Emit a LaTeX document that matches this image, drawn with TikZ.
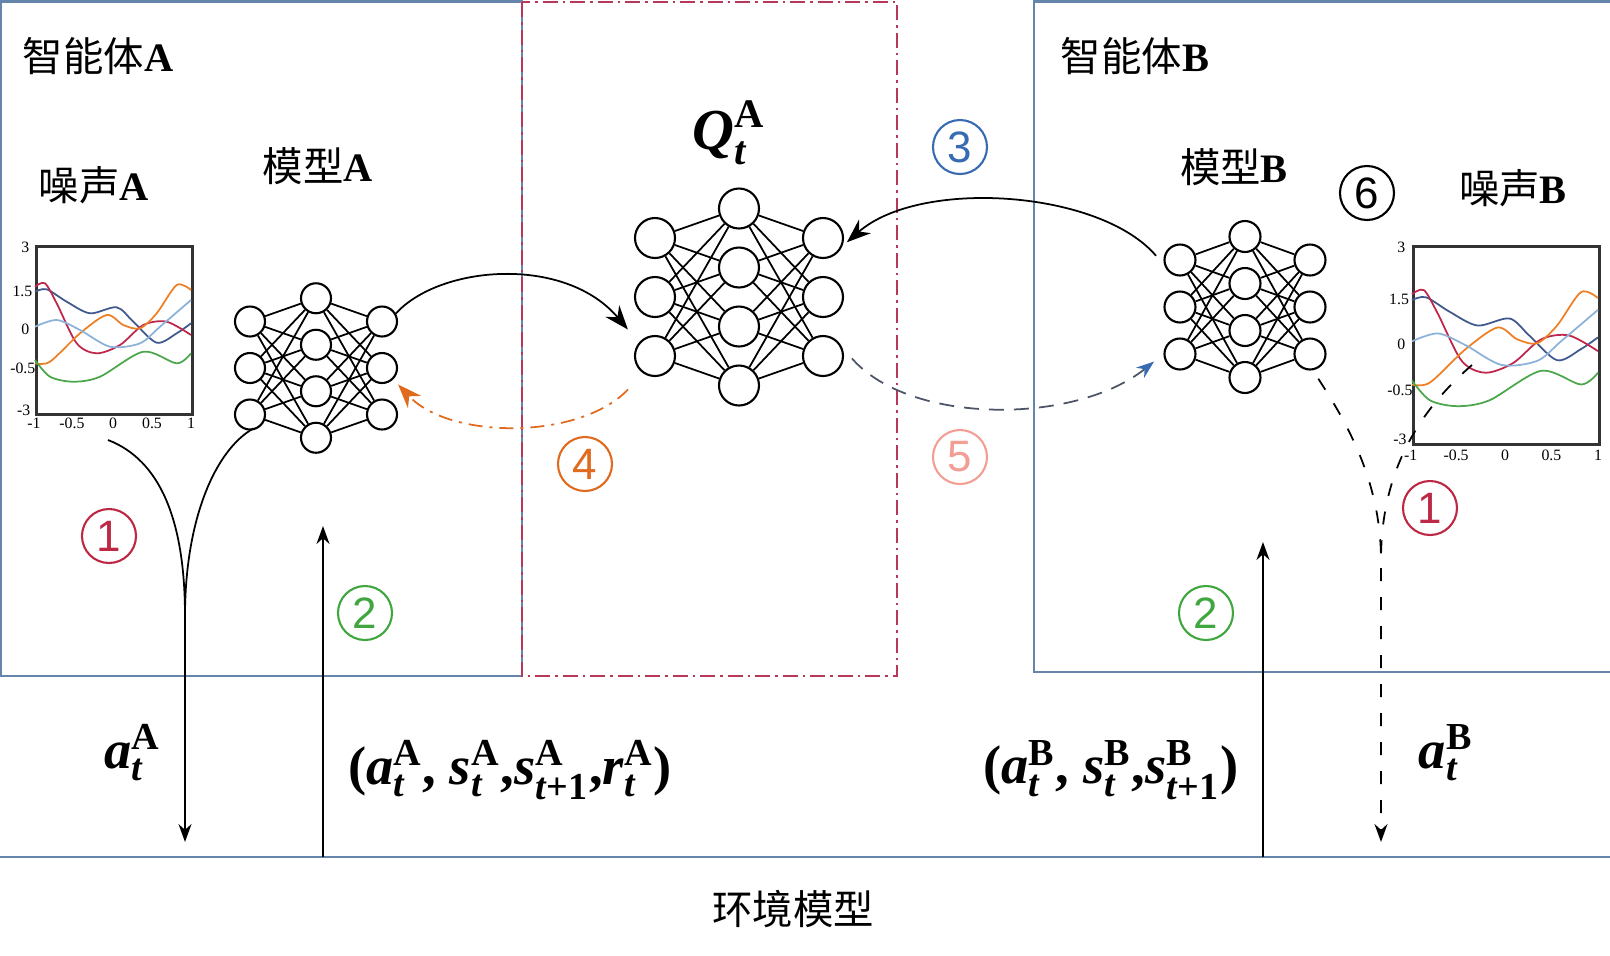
\documentclass[tikz,border=0pt]{standalone}
\usepackage{amsmath}
\usepackage{fontspec}
\setmainfont{Liberation Serif}
\setsansfont{Liberation Sans}
\newfontfamily\cjk{Noto Sans CJK SC}
\usetikzlibrary{arrows.meta}

\newlength{\du}
\setlength{\du}{1mm}

\definecolor{boxcol}{rgb}{0.40,0.52,0.68}
\definecolor{qboxcol}{rgb}{0.72,0.22,0.35}
\definecolor{onecol}{rgb}{0.74,0.16,0.27}
\definecolor{twocol}{rgb}{0.25,0.65,0.25}
\definecolor{threecol}{rgb}{0.22,0.42,0.70}
\definecolor{fourcol}{rgb}{0.88,0.42,0.12}
\definecolor{fivecol}{rgb}{0.95,0.62,0.58}
\definecolor{dashcol}{rgb}{0.30,0.33,0.40}
\definecolor{cvblue}{rgb}{0.25,0.35,0.55}
\definecolor{cvred}{rgb}{0.75,0.15,0.30}
\definecolor{cvorange}{rgb}{0.93,0.50,0.15}
\definecolor{cvlight}{rgb}{0.55,0.70,0.85}
\definecolor{cvgreen}{rgb}{0.30,0.65,0.30}

\newcommand{\bv}[1]{\textbf{\textit{#1}}}

\tikzset{
  neuron/.style={circle, draw, line width=0.6pt, inner sep=0pt},
  nnedge/.style={line width=0.5pt},
  agentbox/.style={draw=boxcol, line width=0.6pt},
  qbox/.style={draw=qboxcol, line width=0.6pt, dash pattern=on 1.5\du off 0.5\du on 0.25\du off 0.5\du},
  lbl/.style={inner sep=0pt, font=\fontsize{11.5}{13}\selectfont},
  mathlbl/.style={inner sep=0pt, font=\fontsize{15.5}{18}\selectfont},
  stepno/.style={circle, draw=#1, text=#1, line width=0.6pt, minimum size=5.4\du, inner sep=0pt, font=\sffamily\fontsize{12.5}{13}\selectfont},
  plotbox/.style={draw=black!80, line width=0.8pt, inner sep=0pt, anchor=north west},
  ticklbl/.style={inner sep=0pt, font=\fontsize{4.5}{5}\selectfont},
  curve/.style={line width=0.5pt},
  conn/.style={line width=0.5pt, -{Stealth[length=2.4mm,width=1.8mm]}},
  conndown/.style={line width=0.5pt, -{Stealth[length=1.8mm,width=1.3mm]}},
}

% small net: name, centre x, centre y, column step, row step, node size
\newcommand{\nnet}[6]{%
  \foreach \k in {1,2,3}{
    \node[neuron, minimum size=#6] (#1-l\k) at ({(#2-#4)*\du},{(#3+(\k-2)*#5)*\du}) {};
    \node[neuron, minimum size=#6] (#1-r\k) at ({(#2+#4)*\du},{(#3+(\k-2)*#5)*\du}) {};
  }
  \foreach \k in {1,...,4}{
    \node[neuron, minimum size=#6] (#1-m\k) at ({#2*\du},{(#3+(\k-2.5)*#5)*\du}) {};
  }
  \foreach \k in {1,2,3}{\foreach \j in {1,...,4}{
    \draw[nnedge] (#1-l\k) -- (#1-m\j);
    \draw[nnedge] (#1-m\j) -- (#1-r\k);
  }}
}

% noise plot: name, x, y, xscale, yscale
\newcommand{\noiseplot}[5]{%
\begin{scope}[shift={(#2\du,#3\du)}, x=#4mm, y=#5mm]
\node[plotbox, minimum width={15.6*#4mm}, minimum height={16.8*#5mm}] (#1) at (0,0) {};
\draw[curve, cvblue] plot[smooth] coordinates {(0,4.67) (1.17,4.43) (3.17,5.67) (5.5,6.83) (8.17,6.23) (9.83,7.67) (12.17,9.77) (14.17,8.83) (15.6,7.83)};
\draw[curve, cvred] plot[smooth] coordinates {(0,4.17) (1,3.83) (2.17,5.83) (4.17,9.83) (6.17,10.83) (8.5,10) (10.83,8) (13.17,7.67) (15.6,9)};
\draw[curve, cvorange] plot[smooth] coordinates {(0,11.83) (1.5,11.67) (4.5,8.83) (7.17,7) (8.83,8) (10.5,8.33) (12.17,6.83) (14.17,4) (15.6,4.5)};
\draw[curve, cvlight] plot[smooth] coordinates {(0,8.17) (2.17,7.5) (4.5,8.5) (7.5,10.17) (10.5,9.83) (12.5,8.17) (15.6,5.5)};
\draw[curve, cvgreen] plot[smooth] coordinates {(0,11.5) (1.5,13.17) (3.83,13.67) (6.5,13.17) (10.83,10.67) (14.17,11.83) (15.6,10.83)};
\node[ticklbl, anchor=east] at (-0.5,0.2) {3};
\node[ticklbl, anchor=east] at (-0.2,4.6) {1.5};
\node[ticklbl, anchor=east] at (-0.5,8.4) {0};
\node[ticklbl, anchor=east] at (0.1,12.3) {-0.5};
\node[ticklbl, anchor=east] at (-0.4,16.5) {-3};
\node[ticklbl] at (-0.1,17.8) {-1};
\node[ticklbl] at (3.7,17.8) {-0.5};
\node[ticklbl] at (7.8,17.8) {0};
\node[ticklbl] at (11.7,17.8) {0.5};
\node[ticklbl] at (15.6,17.8) {1};
\end{scope}}

\begin{document}
\begin{tikzpicture}
\pgftransformxscale{1.000000}
\pgftransformyscale{-1.000000}
\useasboundingbox (0,0) rectangle (161\du,95.5\du);

% boxes
\draw[agentbox] (0.1\du,0.15\du) rectangle (52.2\du,67.6\du);
\draw[agentbox] (103.4\du,0.15\du) rectangle (162\du,67.2\du);
\draw[qbox] (52.2\du,0.2\du) rectangle (89.7\du,67.6\du);
\coordinate (envl) at (0\du,85.7\du);
\coordinate (envr) at (161\du,85.7\du);
\draw[agentbox] (envl) -- (envr);
\node[lbl] (env) at (79.3\du,90.9\du) {{\cjk 环境模型}};

% texts
\node[lbl] (agA) at (9.8\du,5.6\du) {{\cjk 智能体}\textbf{A}};
\node[lbl] (noiA) at (9.4\du,18.5\du) {{\cjk 噪声}\textbf{A}};
\node[lbl] (modA) at (31.8\du,16.6\du) {{\cjk 模型}\textbf{A}};
\node[lbl] (agB) at (113.5\du,5.6\du) {{\cjk 智能体}\textbf{B}};
\node[lbl] (modB) at (123.4\du,16.7\du) {{\cjk 模型}\textbf{B}};
\node[lbl] (noiB) at (151.3\du,18.8\du) {{\cjk 噪声}\textbf{B}};
\node[mathlbl, font=\fontsize{16.5}{18}\selectfont] (qlbl) at (72.9\du,13.3\du) {\bv{Q}$^{\textbf{A}}_{\bv{t}}$};

% nets and noise
\nnet{Ma}{31.6}{36.8}{6.6}{4.65}{3mm}
\nnet{Qa}{73.9}{29.7}{8.4}{5.9}{4mm}
\nnet{Mb}{124.5}{30.7}{6.5}{4.7}{3.1mm}
\noiseplot{Na}{3.5}{24.5}{1}{1}
\noiseplot{Nb}{141.2}{24.5}{1.192}{1.179}

% step numbers
\node[stepno=onecol] (s1a) at (10.9\du,53.6\du) {1};
\node[stepno=twocol] (s2a) at (36.5\du,61.3\du) {2};
\node[stepno=threecol] (s3) at (96\du,14.7\du) {3};
\node[stepno=fourcol] (s4) at (58.5\du,46.4\du) {4};
\node[stepno=fivecol] (s5) at (96\du,45.7\du) {5};
\node[stepno=black] (s6) at (136.7\du,19.3\du) {6};
\node[stepno=twocol] (s2b) at (120.6\du,61.3\du) {2};
\node[stepno=onecol] (s1b) at (143\du,50.8\du) {1};

% connectors
\coordinate (ja) at (18.5\du,61.6\du);
\coordinate (jb) at (138.1\du,56\du);
\coordinate (Na-out) at (10.8\du,44\du);
\coordinate (Nb-out) at (147.2\du,36.5\du);
\coordinate (upA) at (32.3\du,52.6\du);
\coordinate (upB) at (126.3\du,54.2\du);

\draw[conn, shorten >=1.7mm] (Ma-r1.30) .. controls (44\du,26.5\du) and (56.5\du,25.5\du) .. (Qa-l3.140);
\draw[conn, shorten <=1.3mm, shorten >=0.6mm] (Mb-l1.200) .. controls (110\du,19\du) and (92\du,17.8\du) .. (Qa-r1.-23);
\draw[conn, color=fourcol, dash pattern=on 1.4\du off 0.7\du on 0.3\du off 0.7\du, shorten <=2.2mm, shorten >=0.7mm] (Qa-l3.236) .. controls (58\du,44\du) and (45\du,44\du) .. (Ma-r2.-45);
\draw[line width=0.5pt, draw=dashcol, dash pattern=on 1.5\du off 1\du, -{Stealth[length=1.8mm,width=1.3mm,color=threecol]}, shorten <=1.5mm, shorten >=1.2mm] (Qa-r3.25) .. controls (91\du,42.5\du) and (107.5\du,42.5\du) .. (Mb-l3.180);

\draw[conndown, shorten <=1.2mm, shorten >=1.5mm] (Ma-l3.-30) .. controls (21.5\du,45\du) and (18.5\du,52\du) .. (ja) -- (ja |- envl);
\draw[curve] (Na-out) .. controls (16\du,46\du) and (18.5\du,52\du) .. (ja);
\draw[conndown, dash pattern=on 1.3\du off 1.6\du, shorten <=1mm, shorten >=1.5mm] (Mb-r3.-80) .. controls (134.5\du,42\du) and (138.1\du,48\du) .. (jb) -- (jb |- envl);
\draw[curve, dash pattern=on 1.3\du off 1.6\du] (Nb-out) .. controls (142\du,41\du) and (138.1\du,47\du) .. (jb);

\draw[conndown] (upA |- envl) -- (upA);
\draw[conndown] (upB |- envl) -- (upB);

\node[mathlbl] (aA) at (13.3\du,75.3\du) {\bv{a}$^{\textbf{A}}_{\bv{t}}$};
\node[mathlbl] (tupA) at (51.0\du,77.0\du) {\textbf{(}\bv{a}$^{\textbf{A}}_{\bv{t}}$\textbf{,\ }\bv{s}$^{\textbf{A}}_{\bv{t}}$\textbf{,}\bv{s}$^{\textbf{A}}_{\bv{t}\textbf{+1}}$\textbf{,}\bv{r}$^{\textbf{A}}_{\bv{t}}$\textbf{)}};
\node[mathlbl] (tupB) at (111.1\du,77.0\du) {\textbf{(}\bv{a}$^{\textbf{B}}_{\bv{t}}$\textbf{,\ }\bv{s}$^{\textbf{B}}_{\bv{t}}$\textbf{,}\bv{s}$^{\textbf{B}}_{\bv{t}\textbf{+1}}$\textbf{)}};
\node[mathlbl] (aB) at (144.6\du,75.3\du) {\bv{a}$^{\textbf{B}}_{\bv{t}}$};
\end{tikzpicture}
\end{document}
